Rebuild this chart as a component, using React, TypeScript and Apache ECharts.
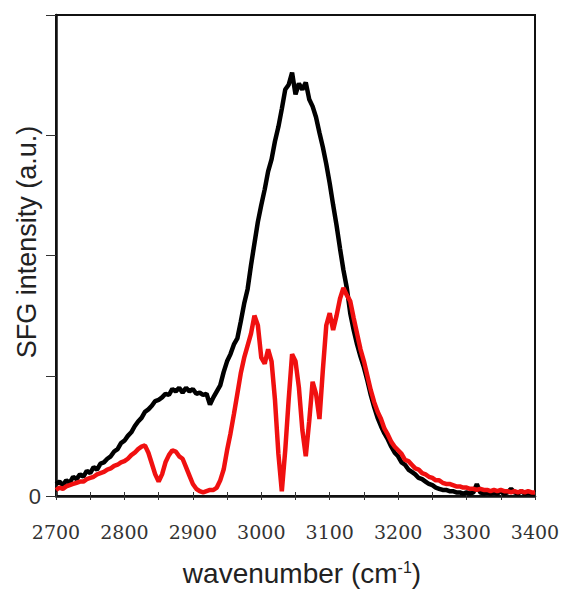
import React, { useEffect, useRef } from "react";
import * as echarts from "echarts";

const wavenumber = [
  2700, 2705, 2710, 2715, 2720, 2725, 2730, 2735, 2740, 2745,
  2750, 2755, 2760, 2765, 2770, 2775, 2780, 2785, 2790, 2795,
  2800, 2805, 2810, 2815, 2820, 2825, 2830, 2835, 2840, 2845,
  2850, 2855, 2860, 2865, 2870, 2875, 2880, 2885, 2890, 2895,
  2900, 2905, 2910, 2915, 2920, 2925, 2930, 2935, 2940, 2945,
  2950, 2955, 2960, 2965, 2970, 2975, 2980, 2985, 2990, 2995,
  3000, 3005, 3010, 3015, 3020, 3025, 3030, 3035, 3040, 3045,
  3050, 3055, 3060, 3065, 3070, 3075, 3080, 3085, 3090, 3095,
  3100, 3105, 3110, 3115, 3120, 3125, 3130, 3135, 3140, 3145,
  3150, 3155, 3160, 3165, 3170, 3175, 3180, 3185, 3190, 3195,
  3200, 3205, 3210, 3215, 3220, 3225, 3230, 3235, 3240, 3245,
  3250, 3255, 3260, 3265, 3270, 3275, 3280, 3285, 3290, 3295,
  3300, 3305, 3310, 3315, 3320, 3325, 3330, 3335, 3340, 3345,
  3350, 3355, 3360, 3365, 3370, 3375, 3380, 3385, 3390, 3395,
  3400,
];

const blackSpectrum = [
  0.10, 0.12, 0.09, 0.13, 0.11, 0.16, 0.14, 0.18, 0.16, 0.21,
  0.19, 0.24, 0.22, 0.27, 0.28, 0.31, 0.33, 0.37, 0.39, 0.44,
  0.46, 0.50, 0.53, 0.58, 0.62, 0.65, 0.70, 0.72, 0.75, 0.79,
  0.80, 0.82, 0.85, 0.84, 0.89, 0.87, 0.90, 0.86, 0.90, 0.87,
  0.89, 0.85, 0.86, 0.84, 0.85, 0.76, 0.82, 0.87, 0.92, 1.03,
  1.12, 1.18, 1.26, 1.31, 1.45, 1.60, 1.72, 1.92, 2.10, 2.28,
  2.42, 2.55, 2.70, 2.80, 2.95, 3.07, 3.22, 3.38, 3.42, 3.52,
  3.34, 3.43, 3.38, 3.44, 3.30, 3.24, 3.15, 3.02, 2.90, 2.76,
  2.60, 2.42, 2.25, 2.06, 1.88, 1.73, 1.52, 1.38, 1.26, 1.16,
  1.07, 0.96, 0.84, 0.74, 0.65, 0.58, 0.52, 0.47, 0.41, 0.36,
  0.33, 0.28, 0.26, 0.22, 0.20, 0.18, 0.15, 0.14, 0.12, 0.10,
  0.09, 0.07, 0.06, 0.05, 0.05, 0.04, 0.04, 0.03, 0.03, 0.02,
  0.03, 0.02, 0.03, 0.10, 0.03, 0.02, 0.03, 0.02, 0.03, 0.02,
  0.04, 0.02, 0.03, 0.06, 0.03, 0.02, 0.04, 0.02, 0.03, 0.02,
  0.02,
];

const redSpectrum = [
  0.05, 0.07, 0.06, 0.08, 0.09, 0.10, 0.11, 0.12, 0.12, 0.14,
  0.15, 0.16, 0.18, 0.19, 0.20, 0.22, 0.23, 0.25, 0.26, 0.28,
  0.29, 0.31, 0.34, 0.36, 0.39, 0.41, 0.42, 0.36, 0.27, 0.18,
  0.12, 0.18, 0.28, 0.34, 0.38, 0.37, 0.33, 0.31, 0.24, 0.17,
  0.10, 0.06, 0.04, 0.03, 0.04, 0.05, 0.05, 0.07, 0.13, 0.22,
  0.38, 0.52, 0.68, 0.85, 1.02, 1.15, 1.25, 1.35, 1.50, 1.42,
  1.15, 1.10, 1.22, 1.12, 0.80, 0.35, 0.04, 0.38, 0.80, 1.18,
  1.12, 0.90, 0.55, 0.33, 0.62, 0.95, 0.85, 0.64, 1.05, 1.42,
  1.52, 1.38, 1.50, 1.64, 1.73, 1.67, 1.62, 1.48, 1.35, 1.22,
  1.12, 1.00, 0.88, 0.78, 0.70, 0.64, 0.56, 0.51, 0.45, 0.41,
  0.38, 0.35, 0.30, 0.29, 0.26, 0.23, 0.22, 0.19, 0.18, 0.16,
  0.15, 0.13, 0.13, 0.11, 0.10, 0.10, 0.09, 0.08, 0.08, 0.07,
  0.07, 0.06, 0.06, 0.05, 0.06, 0.05, 0.05, 0.04, 0.05, 0.04,
  0.05, 0.04, 0.04, 0.03, 0.04, 0.03, 0.04, 0.03, 0.04, 0.03,
  0.03,
];

const xTitle = "{a|wavenumber (cm}{s|-1}{a|)}";
const yTitle = "SFG intensity (a.u.)";

export default function App() {
  const ref = useRef<HTMLDivElement>(null);

  useEffect(() => {
    if (!ref.current) return;
    const chart = echarts.init(ref.current, undefined, { renderer: "svg" });
    const blackData = wavenumber.map((w, i) => [w, blackSpectrum[i]]);
    const redData = wavenumber.map((w, i) => [w, redSpectrum[i]]);

    chart.setOption({
      animation: false,
      backgroundColor: "#ffffff",
      grid: {
        left: 56,
        right: 29,
        top: 15,
        bottom: 94,
        show: true,
        borderColor: "#111",
        borderWidth: 2,
        backgroundColor: "transparent",
      },
      xAxis: [
        {
          type: "value",
          min: 2700,
          max: 3400,
          interval: 100,
          axisLine: { show: true, lineStyle: { color: "#111", width: 2.5 } },
          axisTick: { show: true, inside: false, length: 4, lineStyle: { color: "#333", width: 1 } },
          minorTick: { show: true, splitNumber: 2, length: 4, lineStyle: { color: "#333", width: 1 } },
          axisLabel: {
            show: true,
            margin: 26,
            fontSize: 19,
            fontFamily: "DejaVu Serif",
            color: "#333",
            formatter: (v: number) => String(v),
          },
          splitLine: { show: false },
        },
        {
          type: "value",
          min: 2700,
          max: 3400,
          interval: 100,
          position: "bottom",
          axisLine: { show: false },
          axisTick: { show: true, inside: true, length: 4, lineStyle: { color: "#333", width: 1 } },
          minorTick: { show: true, splitNumber: 2, length: 4, lineStyle: { color: "#333", width: 1 } },
          axisLabel: { show: false },
          splitLine: { show: false },
        },
      ],
      yAxis: {
        type: "value",
        min: 0,
        max: 4,
        interval: 1,
        axisLine: { show: true, lineStyle: { color: "#111", width: 2.5 } },
        axisTick: { show: true, inside: false, length: 10, lineStyle: { color: "#333", width: 1 } },
        axisLabel: {
          show: true,
          margin: 15,
          fontSize: 22,
          fontFamily: "Liberation Sans",
          color: "#333",
          formatter: (v: number) => (v === 0 ? "0" : ""),
        },
        splitLine: { show: false },
      },
      graphic: [
        {
          type: "text",
          x: 302,
          y: 573,
          style: {
            text: xTitle,
            align: "center",
            verticalAlign: "middle",
            fill: "#222",
            rich: {
              a: { fontSize: 28, fontFamily: "Liberation Sans", fill: "#222", color: "#222" },
              s: { fontSize: 16, fontFamily: "Liberation Sans", fill: "#222", color: "#222", verticalAlign: "top" },
            },
          },
        },
        {
          type: "text",
          x: 27,
          y: 242,
          rotation: Math.PI / 2,
          style: {
            text: yTitle,
            align: "center",
            verticalAlign: "middle",
            fontSize: 27,
            fontFamily: "Liberation Sans",
            fill: "#222",
          },
        },
      ],
      series: [
        {
          type: "line",
          name: "black",
          data: blackData,
          xAxisIndex: 0,
          showSymbol: false,
          symbol: "none",
          lineStyle: { color: "#000", width: 4.5, join: "bevel" },
          z: 2,
        },
        {
          type: "line",
          name: "red",
          data: redData,
          xAxisIndex: 0,
          showSymbol: false,
          symbol: "none",
          lineStyle: { color: "#f01010", width: 4.5, join: "bevel" },
          z: 3,
        },
      ],
    });

    return () => chart.dispose();
  }, []);

  return (
    <div
      ref={ref}
      style={{ position: "fixed", left: 0, top: 0, width: 564, height: 590, background: "#fff" }}
    />
  );
}
